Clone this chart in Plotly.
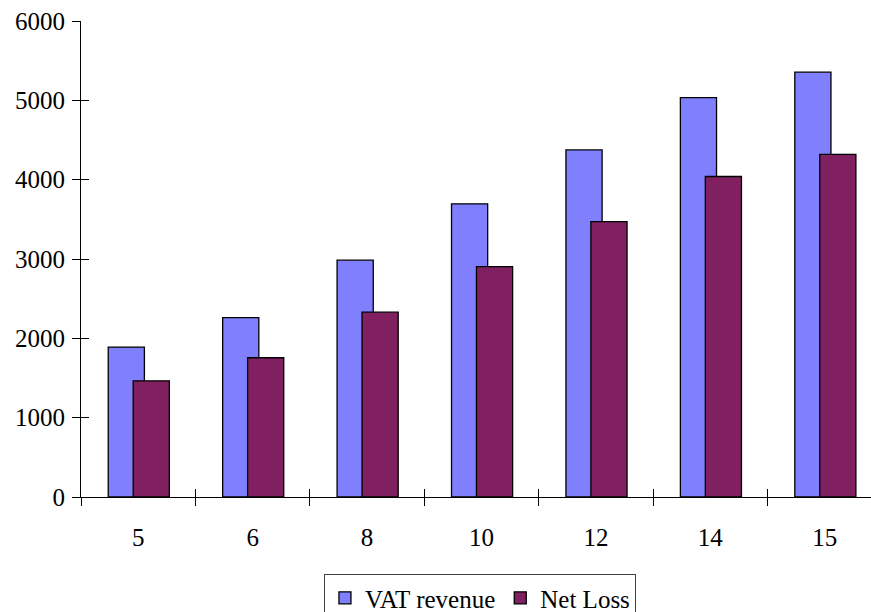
import plotly.graph_objects as go

# Data
categories = ["5", "6", "8", "10", "12", "14", "15"]
vat_revenue = [1890, 2260, 2985, 3695, 4375, 5035, 5355]
net_loss = [1465, 1755, 2330, 2905, 3470, 4040, 4320]
y_ticks = [0, 1000, 2000, 3000, 4000, 5000, 6000]

FONT = "Liberation Serif"
BAR_W = 0.316
X_RANGE = [-0.5, 6.404]
Y_RANGE = [0, 6000]

fig = go.Figure()
fig.add_trace(go.Bar(
    name="VAT revenue", x=categories, y=vat_revenue,
    width=BAR_W, offset=-0.262,
    marker=dict(color="#8080FF", line=dict(color="#000000", width=1.3)),
))
fig.add_trace(go.Bar(
    name="Net Loss", x=categories, y=net_loss,
    width=BAR_W, offset=-0.044,
    marker=dict(color="#802060", line=dict(color="#000000", width=1.3)),
))
# empty helper trace so the overlay axes carrying the inner tick halves get drawn
fig.add_trace(go.Scatter(
    x=[0], y=[0], xaxis="x2", yaxis="y2", mode="markers",
    marker=dict(opacity=0), showlegend=False, hoverinfo="skip",
))

fig.update_layout(
    width=871, height=612,
    barmode="overlay",
    plot_bgcolor="white", paper_bgcolor="white",
    margin=dict(l=81, r=0, t=21, b=115, autoexpand=False),
    font=dict(family=FONT, size=25, color="black"),
    xaxis=dict(
        type="category", range=X_RANGE, tickson="boundaries",
        ticks="outside", ticklen=8, tickcolor="black", tickwidth=1,
        showline=True, linecolor="black", linewidth=1,
        showgrid=False, zeroline=False, ticklabelstandoff=18,
    ),
    # inner half of the crossing category-boundary ticks
    xaxis2=dict(
        overlaying="x", anchor="y", side="bottom", range=X_RANGE,
        tickmode="array", tickvals=[0.5, 1.5, 2.5, 3.5, 4.5, 5.5],
        ticks="inside", ticklen=8, tickcolor="black", tickwidth=1,
        showticklabels=False, showgrid=False, zeroline=False, showline=False,
    ),
    # grey rule along the top of the plot area
    xaxis3=dict(
        overlaying="x", anchor="y", side="top", range=X_RANGE,
        showline=True, linecolor="#9a9a9a", linewidth=2,
        ticks="", showticklabels=False, showgrid=False, zeroline=False,
    ),
    yaxis=dict(
        range=Y_RANGE, tickmode="array", tickvals=y_ticks,
        ticks="outside", ticklen=8, tickcolor="black", tickwidth=1,
        showline=True, linecolor="black", linewidth=1,
        showgrid=False, zeroline=False, ticklabelstandoff=2,
    ),
    yaxis2=dict(
        overlaying="y", anchor="x", side="left", range=Y_RANGE,
        tickmode="array", tickvals=y_ticks,
        ticks="inside", ticklen=8, tickcolor="black", tickwidth=1,
        showticklabels=False, showgrid=False, zeroline=False, showline=False,
    ),
    legend=dict(
        orientation="h", x=0.505, xanchor="center", y=-0.162, yanchor="top",
        bordercolor="#404040", borderwidth=1, bgcolor="white",
        font=dict(family=FONT, size=25, color="black"),
        itemwidth=30,
    ),
    showlegend=True,
)

fig.write_html("out.html")
